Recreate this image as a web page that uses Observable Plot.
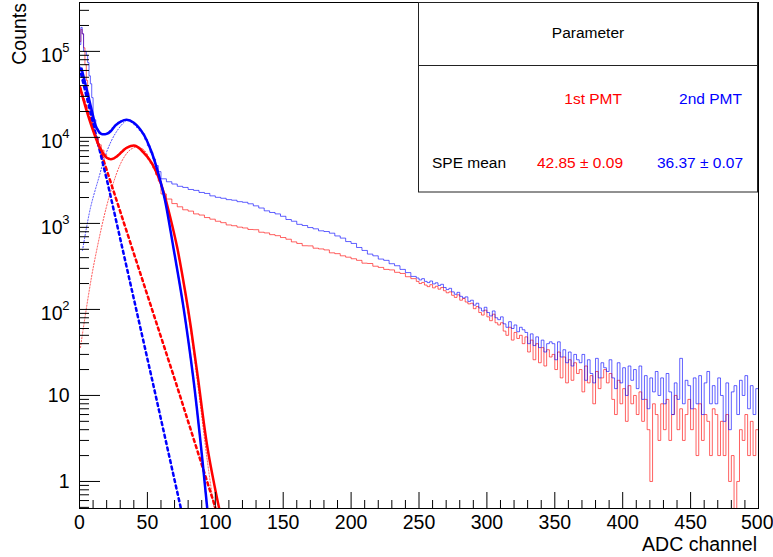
<!DOCTYPE html>
<html><head><meta charset="utf-8">
<script src="https://cdn.jsdelivr.net/npm/d3@7"></script>
<script src="https://cdn.jsdelivr.net/npm/@observablehq/plot@0.6"></script>
<style>body{margin:0;background:#fff} svg{display:block}</style>
</head><body><div id="chart"></div>
<script>
// ---------------- DATA ----------------
// Histogram bins: head = 1-channel bins (0..9), mid = 2-channel bins (10..58),
// body = 4-channel bins (60..244), tail = 2-channel bins (248..498)
const headStart = 0, headWidth = 1;
const redHead  = [130000, 180000, 160000, 110000, 70000, 46000, 33000, 25000, 19000, 15000];
const blueHead = [120000, 190000, 160000, 100000, 100000, 90000, 74000, 52000, 42000, 29000];

const midStart = 10, midWidth = 2;
const redMid  = [11500, 9800, 8200, 7100, 6300, 5800, 5600, 5650, 5900, 6300, 6800, 7300, 7600, 7900, 8000, 8000, 7800, 7400, 6900, 6300, 5600, 5000, 4400, 3700, 3100];
const blueMid = [16000, 12500, 11200, 10800, 11000, 11300, 12000, 13000, 14000, 15000, 15600, 16000, 16000, 15700, 15000, 14000, 13000, 12000, 11000, 9500, 8000, 6700, 5600, 4700, 4000];

const bodyStart = 60, bodyWidth = 4;
const redBody  = [2200, 1920, 1700, 1560, 1440, 1390, 1290, 1250, 1170, 1120, 1060, 1020, 960, 940, 905, 885, 850, 845, 790, 775, 740, 720, 685, 655, 610, 585, 550, 548, 515, 505, 492, 455, 445, 420, 405, 388, 372, 345, 342, 318, 308, 292, 288, 270, 262, 240, 228];
const blueBody = [3300, 3050, 2870, 2700, 2620, 2480, 2420, 2290, 2230, 2090, 2010, 1960, 1890, 1860, 1790, 1760, 1690, 1600, 1510, 1400, 1340, 1290, 1210, 1110, 1060, 975, 945, 895, 865, 820, 805, 770, 715, 675, 615, 585, 525, 485, 440, 420, 385, 372, 340, 322, 292, 268, 242];

const tailStart = 248, tailWidth = 2;
const redTail = [
  212, 200, 206, 192, 184, 194, 178, 186, 172, 180,
  165, 156, 160, 146, 138, 148, 128, 134, 122, 116,
  118, 102, 108, 92, 86, 98, 82, 74, 88, 70,
  66, 70, 56, 50, 62, 44, 54, 46, 50, 40,
  48, 32, 44, 26, 40, 24, 36, 22, 34, 28,
  30, 20, 32, 16, 28, 14, 26, 15, 24, 18,
  20, 11, 22, 14, 17, 8, 19, 12, 16, 20,
  14, 18, 9, 6, 15, 8, 12, 5, 13, 8,
  10, 6, 11, 5, 9, 4, 1, 8, 6, 3,
  8, 4, 9, 3, 6, 10, 4, 7, 3, 6,
  9, 4, 7, 2, 8, 3, 6, 5, 2, 7,
  6, 2, 5, 2, 6, 1, 2, 0, 1, 4,
  3, 6, 2, 5, 2, 4];
const blueTail = [
  232, 220, 228, 212, 205, 214, 198, 204, 190, 196,
  180, 170, 176, 160, 150, 158, 142, 136, 140, 124,
  128, 112, 118, 104, 96, 106, 92, 84, 96, 80,
  76, 82, 68, 62, 72, 60, 66, 55, 62, 58,
  54, 40, 52, 38, 48, 36, 44, 32, 40, 42,
  40, 26, 42, 28, 34, 24, 32, 22, 30, 26,
  24, 30, 15, 26, 18, 14, 27, 16, 24, 21,
  19, 26, 16, 12, 24, 14, 21, 10, 22, 15,
  20, 12, 22, 9, 17, 7, 16, 11, 19, 10,
  16, 8, 18, 11, 6, 14, 9, 27, 8, 15,
  13, 7, 16, 8, 17, 6, 14, 19, 8, 13,
  8, 16, 10, 5, 14, 4, 11, 13, 6, 15,
  10, 17, 7, 13, 6, 12];

// Fit curves
const redFitCh   = [0.5, 5, 10, 15, 20, 24, 28, 35, 41, 47, 53, 58, 62, 67, 72, 78, 82, 87, 94, 100, 104];
const redFitVal  = [38000, 21000, 12000, 7600, 5800, 5600, 6100, 7600, 8000, 6700, 5100, 3500, 2300, 1150, 520, 155, 62, 17, 2.6, 0.8, 0.4];
const blueFitCh  = [1.5, 5, 9, 12.5, 16, 20, 23, 27, 34.5, 40, 47, 53, 59.6, 63, 69, 76.6, 84, 89, 94];
const blueFitVal = [63000, 38000, 20700, 13000, 11000, 11000, 11800, 14000, 16000, 14800, 11000, 6800, 3100, 1850, 540, 105, 15, 3.0, 0.5];

const redExpCh   = [0, 23, 71, 100];
const redExpVal  = [39000, 3000, 14, 0.5];
const blueExpCh  = [0, 20.6, 53.8, 74.5];
const blueExpVal = [65000, 3000, 14.5, 0.5];

const redGausCh   = [0.7, 10.5, 22.8, 32, 38, 42.85, 48, 53, 58, 62, 67, 72, 78, 82, 87, 94, 101];
const redGausVal  = [36, 330, 2300, 5600, 7300, 7700, 7000, 4900, 3400, 2250, 1120, 505, 145, 55, 14, 1.8, 0.3];
const blueGausCh  = [2.2, 8, 14, 20, 27, 34, 36.4, 40, 47, 53, 59, 63, 69, 76.6, 84, 89, 94];
const blueGausVal = [485, 1500, 3300, 6800, 11500, 15500, 15800, 14500, 10800, 6700, 3150, 1800, 525, 100, 14, 2.8, 0.45];

// Axes
const xTickValues = [0, 50, 100, 150, 200, 250, 300, 350, 400, 450, 500];
const xTickLabels = ["0", "50", "100", "150", "200", "250", "300", "350", "400", "450", "500"];
const yDecades    = [1, 10, 100, 1000, 10000, 100000];
const yLabelBase  = ["1", "10", "10", "10", "10", "10"];
const yLabelExp   = ["", "", "2", "3", "4", "5"];
const xTitle = "ADC channel";
const yTitle = "Counts";

// Legend table
const legendHeader = "Parameter";
const seriesNames  = ["1st PMT", "2nd PMT"];
const rowLabel     = "SPE mean";
const speMean      = ["42.85 \u00b1 0.09", "36.37 \u00b1 0.07"];
const seriesColors = ["#ff0000", "#0000ff"];

// ---------------- BUILD ----------------
const yMin = 0.485, yMax = 3.7e5;
const xMin = 0, xMax = 500;
const clampY = v => Math.max(v, yMin);

function buildHist(segments) {
  const pts = [{x: xMin, y: yMin}];
  let last = null, end = xMin;
  for (const [start, width, vals] of segments) {
    vals.forEach((v, i) => { pts.push({x: start + i * width, y: clampY(v)}); last = clampY(v); end = start + (i + 1) * width; });
  }
  pts.push({x: end, y: last});
  return pts;
}
const redHist  = buildHist([[headStart, headWidth, redHead], [midStart, midWidth, redMid], [bodyStart, bodyWidth, redBody], [tailStart, tailWidth, redTail]]);
const blueHist = buildHist([[headStart, headWidth, blueHead], [midStart, midWidth, blueMid], [bodyStart, bodyWidth, blueBody], [tailStart, tailWidth, blueTail]]);
const pairs = (xs, ys) => xs.map((x, i) => ({x, y: ys[i]}));

const xMinor = d3.range(0, 501, 10).filter(v => v % 50 !== 0);
const yMinor = [];
for (let e = -1; e <= 5; e++) for (let m = 2; m <= 9; m++) { const v = m * Math.pow(10, e); if (v >= yMin && v <= yMax) yMinor.push(v); }

const W = 773, H = 557, mL = 79, mR = 15, mT = 2, mB = 49;
const plotW = W - mL - mR, plotH = H - mT - mB;
const FONT = "'Liberation Sans', Arial, Helvetica, sans-serif";
const xLabelIdx = xTickValues.map((d, i) => i);
const lastIdx = xTickValues.length - 1;

const plot = Plot.plot({
  width: W, height: H,
  marginLeft: mL, marginRight: mR, marginTop: mT, marginBottom: mB,
  x: {domain: [xMin, xMax], axis: null},
  y: {type: "log", domain: [yMin, yMax], axis: null},
  style: {fontFamily: FONT, background: "white", overflow: "visible"},
  marks: [
    Plot.line(redHist,  {x: "x", y: "y", curve: "step-after", stroke: "#ff0000", strokeOpacity: 0.62, strokeWidth: 1, clip: true}),
    Plot.line(blueHist, {x: "x", y: "y", curve: "step-after", stroke: "#0000ff", strokeOpacity: 0.62, strokeWidth: 1, clip: true}),
    Plot.line(pairs(redGausCh, redGausVal),   {x: "x", y: "y", curve: "catmull-rom", stroke: "#ff0000", strokeOpacity: 0.7, strokeWidth: 1, strokeDasharray: "1.2,1.8", clip: true}),
    Plot.line(pairs(blueGausCh, blueGausVal), {x: "x", y: "y", curve: "catmull-rom", stroke: "#0000ff", strokeOpacity: 0.7, strokeWidth: 1, strokeDasharray: "1.2,1.8", clip: true}),
    Plot.line(pairs(redExpCh, redExpVal),   {x: "x", y: "y", stroke: "#ff0000", strokeWidth: 2.5, strokeDasharray: "3,3.5", clip: true}),
    Plot.line(pairs(blueExpCh, blueExpVal), {x: "x", y: "y", stroke: "#0000ff", strokeWidth: 2.5, strokeDasharray: "3,3.5", clip: true}),
    Plot.line(pairs(redFitCh, redFitVal),   {x: "x", y: "y", curve: "catmull-rom", stroke: "#ff0000", strokeWidth: 2.5, clip: true}),
    Plot.line(pairs(blueFitCh, blueFitVal), {x: "x", y: "y", curve: "catmull-rom", stroke: "#0000ff", strokeWidth: 2.5, clip: true}),
    Plot.frame({stroke: "black", strokeWidth: 1}),
    Plot.tickX(xTickValues, {x: d => d, insetTop: plotH - 16, stroke: "black"}),
    Plot.tickX(xMinor, {x: d => d, insetTop: plotH - 8, stroke: "black"}),
    Plot.tickY(yDecades, {y: d => d, insetRight: plotW - 21, stroke: "black"}),
    Plot.tickY(yMinor, {y: d => d, insetRight: plotW - 10, stroke: "black"}),
    Plot.text(xLabelIdx.filter(i => i !== lastIdx), {x: i => xTickValues[i], text: i => xTickLabels[i], frameAnchor: "bottom",
      dy: 14, lineAnchor: "middle", fontSize: 19.5, fill: "black"}),
    Plot.text([lastIdx], {x: i => xTickValues[i], text: i => xTickLabels[i], frameAnchor: "bottom",
      dy: 14, dx: 15, textAnchor: "end", lineAnchor: "middle", fontSize: 19.5, fill: "black"}),
    Plot.text(yDecades, {y: d => d, text: (d, i) => yLabelBase[i], frameAnchor: "left", textAnchor: "end",
      dx: -10, lineAnchor: "middle", fontSize: 19.5, fill: "black", filter: (d, i) => yLabelExp[i] === ""}),
    Plot.text(yDecades, {y: d => d, text: (d, i) => yLabelBase[i], frameAnchor: "left", textAnchor: "end",
      dx: -17, dy: 4, lineAnchor: "middle", fontSize: 19.5, fill: "black", filter: (d, i) => yLabelExp[i] !== ""}),
    Plot.text(yDecades, {y: d => d, text: (d, i) => yLabelExp[i], frameAnchor: "left", textAnchor: "end",
      dx: -10, dy: -4, lineAnchor: "middle", fontSize: 13, fill: "black", filter: (d, i) => yLabelExp[i] !== ""})
  ]
});
document.getElementById("chart").appendChild(plot);

// Axis titles and the parameter table
const svg = d3.select(plot);
svg.append("text").attr("transform", "translate(26,3) rotate(-90)").attr("text-anchor", "end")
  .attr("font-family", FONT).attr("font-size", 19.5).attr("fill", "black").text(yTitle);
svg.append("text").attr("x", 757).attr("y", 551).attr("text-anchor", "end")
  .attr("font-family", FONT).attr("font-size", 19.5).attr("fill", "black").text(xTitle);

const lg = svg.append("g").attr("font-family", FONT).attr("font-size", 15.5);
lg.append("rect").attr("x", 418.5).attr("y", 2.5).attr("width", 339).attr("height", 189.5)
  .attr("fill", "white").attr("stroke", "#222").attr("stroke-width", 1);
lg.append("line").attr("x1", 418.5).attr("x2", 757.5).attr("y1", 65.5).attr("y2", 65.5).attr("stroke", "#222");
lg.append("text").attr("x", 588).attr("y", 33).attr("dy", "0.35em").attr("text-anchor", "middle").attr("fill", "black").text(legendHeader);
const colRight = [622, 742];
seriesNames.forEach((s, i) => lg.append("text").attr("x", colRight[i]).attr("y", 99).attr("dy", "0.35em")
  .attr("text-anchor", "end").attr("fill", seriesColors[i]).text(s));
lg.append("text").attr("x", 432).attr("y", 163).attr("dy", "0.35em").attr("text-anchor", "start").attr("fill", "black").text(rowLabel);
speMean.forEach((s, i) => lg.append("text").attr("x", colRight[i] + 1).attr("y", 163).attr("dy", "0.35em")
  .attr("text-anchor", "end").attr("fill", seriesColors[i]).text(s));
</script></body></html>
